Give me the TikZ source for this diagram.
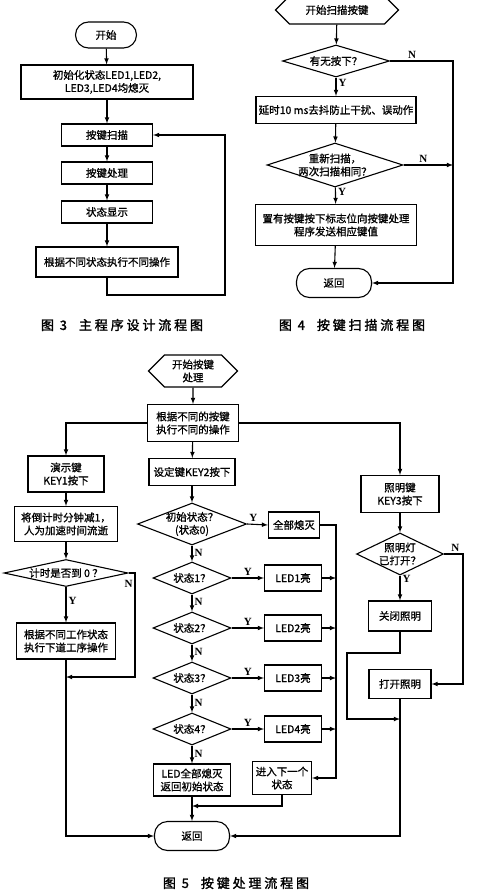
\documentclass[tikz,border=0pt]{standalone}
\usepackage{fontspec}
\setmainfont[FakeBold=1]{Noto Sans CJK SC}
\newfontfamily\ynfont{Liberation Serif}
\newfontfamily\capfont[FakeBold=1.8,LetterSpace=22]{Noto Sans CJK SC}
\usepackage{tikz}
\usetikzlibrary{arrows,shapes,calc}

\begin{document}
\begin{tikzpicture}[x=1pt,y=-1pt,line width=1.1pt,font=\fontsize{10.5}{13}\selectfont]
  \tikzstyle{box}=[draw,rectangle,inner sep=1pt,align=center,minimum height=26pt]
  \tikzstyle{term}=[draw,rectangle,rounded corners=13pt,minimum width=75pt,minimum height=29pt]
  \tikzstyle{hexa}=[draw,signal,signal to=east and west,align=center,inner sep=1pt]
  \tikzstyle{dec}=[draw,diamond,aspect=3,inner sep=-5pt,align=center]
  \tikzstyle{arr}=[-latex]
  \tikzstyle{yn}=[font=\ynfont\bfseries\fontsize{11}{11}\selectfont,inner sep=2pt]
  \tikzstyle{figcap}=[font=\capfont\fontsize{13}{13}\selectfont]
  \useasboundingbox (0,0) rectangle (500,896);

  % fig 3
  \node[term,minimum width=61pt,minimum height=26pt] (start3) at (106,35) {开始};
  \node[box,minimum width=172pt,minimum height=34pt] (init3) at (107,82) {初始化状态LED1,LED2,\\LED3,LED4均熄灭};
  \node[box,minimum width=91pt,minimum height=22pt] (scan3) at (107,135) {按键扫描};
  \node[box,minimum width=91pt,minimum height=22pt] (proc3) at (107,173) {按键处理};
  \node[box,minimum width=91pt,minimum height=22pt] (disp3) at (107,212) {状态显示};
  \node[box,minimum width=142pt,minimum height=30pt] (exec3) at (107,262) {根据不同状态执行不同操作};
  \coordinate (back3) at (225,295);
  \draw[arr] (start3) -- (init3);
  \foreach \a/\b in {init3/scan3,scan3/proc3,proc3/disp3,disp3/exec3}
    \draw[arr] (\a) -- (\b);
  \draw[arr] (exec3.south) |- (back3) |- (scan3.east);
  \node[figcap] (cap3) at (122,325) {图 3\hspace{12pt}主程序设计流程图};

  % fig 4
  \node[hexa,minimum width=123pt,minimum height=28pt] (start4) at (337,10) {开始扫描按键};
  \node[dec,minimum width=107pt,minimum height=32pt] (ask4) at (336,61) {有无按下？};
  \node[box,minimum width=160pt,minimum height=27pt] (delay4) at (336,110) {延时10 ms去抖防止干扰、误动作};
  \node[dec,minimum width=136pt,minimum height=44pt] (again4) at (335,165) {重新扫描，\\两次扫描相同？};
  \node[box,minimum width=161pt,minimum height=41pt] (set4) at (336,225) {置有按键按下标志位向按键处理\\程序发送相应键值};
  \node[term] (ret4) at (334,283) {返回};
  \coordinate (n4) at (453,61);
  \coordinate (m4) at (453,165);
  \draw[arr] (start4) -- (ask4);
  \draw[arr] (ask4) -- node[yn,right,pos=0.3] {Y} (delay4);
  \draw[arr] (delay4) -- (again4);
  \draw[arr] (again4) -- node[yn,right,pos=0.3] {Y} (set4);
  \draw[arr] (set4) -- (ret4);
  \draw[arr] (ask4.east) -- node[yn,above,pos=0.35] {N} (n4) |- (ret4.east);
  \draw[arr] (again4.east) -- node[yn,above,pos=0.4] {N} (m4);
  \node[figcap] (cap4) at (352,325) {图 4\hspace{12pt}按键扫描流程图};

  % fig 5
  \node[hexa,minimum width=89pt,minimum height=32pt] (start5) at (193,371) {开始按键\\处理};
  \node[box,minimum width=91pt,minimum height=37pt] (sel5) at (193,423) {根据不同的按键\\执行不同的操作};
  % left branch
  \node[box,minimum width=76pt,minimum height=36pt] (key1) at (66,474) {演示键\\KEY1按下};
  \node[box,minimum width=103pt,minimum height=35pt] (dec1) at (66,524) {将倒计时分钟减1，\\人为加速时间流逝};
  \node[dec,minimum width=124pt,minimum height=27pt] (zero5) at (66,573) {计时是否到 0 ？};
  \node[box,minimum width=99pt,minimum height=36pt] (next5) at (66,641) {根据不同工作状态\\执行下道工序操作};
  % middle branch
  \node[box,minimum width=86pt,minimum height=27pt] (key2) at (192,472) {设定键KEY2按下};
  \node[dec,minimum width=109pt,minimum height=42pt] (s0) at (192,524) {初始状态？\\(状态0)};
  \node[box,minimum width=51pt,minimum height=26pt] (off0) at (294,525) {全部熄灭};
  \foreach \i/\y in {1/578,2/628,3/678,4/729}{
    \node[dec,minimum width=78pt,minimum height=32pt] (s\i) at (192,\y) {状态\i{}？};
    \node[box,minimum width=57pt,minimum height=26pt] (led\i) at (293,\y) {LED\i{}亮};
  }
  \node[box,minimum width=77pt,minimum height=32pt] (reset5) at (192,780) {LED全部熄灭\\返回初始状态};
  \node[box,minimum width=59pt,minimum height=33pt] (nxt5) at (282,778) {进入下一个\\状态};
  \node[term] (ret5) at (192,836) {返回};
  % right branch
  \node[box,minimum width=78pt,minimum height=37pt] (key3) at (400,494) {照明键\\KEY3按下};
  \node[dec,minimum width=87pt,minimum height=42pt] (lamp5) at (400,554) {照明灯\\已打开？};
  \node[box,minimum width=63pt,minimum height=30pt] (close5) at (400,616) {关闭照明};
  \node[box,minimum width=62pt,minimum height=29pt] (open5) at (400,684) {打开照明};

  \coordinate (z5) at (135,573);
  \coordinate (j5) at (66,677);
  \coordinate (bus) at (336,778);
  \coordinate (k5) at (192,806);
  \coordinate (l5) at (463,554);
  \coordinate (c5) at (347,653);
  \coordinate (o5) at (400,719);

  \draw[arr] (start5) -- (sel5);
  \draw[arr] (sel5) -- (key2);
  \draw[arr] (sel5.west) -| (key1.north);
  \draw[arr] (sel5.east) -| (key3.north);

  \draw[arr] (key1) -- (dec1);
  \draw[arr] (dec1) -- (zero5);
  \draw[arr] (zero5) -- node[yn,right,pos=0.4] {Y} (next5);
  \draw[arr] (zero5.east) -- (z5) |- node[yn,left,pos=0.05] {N} (j5);
  \draw[arr] (next5.south) |- (ret5.west);

  \draw[arr] (key2) -- (s0);
  \draw[arr] (s0) -- node[yn,right,pos=0.45] {N} (s1);
  \draw[arr] (s1) -- node[yn,right,pos=0.45] {N} (s2);
  \draw[arr] (s2) -- node[yn,right,pos=0.45] {N} (s3);
  \draw[arr] (s3) -- node[yn,right,pos=0.45] {N} (s4);
  \draw[arr] (s4) -- node[yn,right,pos=0.45] {N} (reset5);
  \draw[arr] (s0.east) -- node[yn,above,pos=0.3] {Y} (off0.west);
  \foreach \i in {1,2,3,4}{
    \draw[arr] (s\i.east) -- node[yn,above] {Y} (led\i.west);
    \draw[arr] (led\i.east) -- (led\i.east -| bus);
  }
  \draw[arr] (off0.east) -| (bus) -- (nxt5.east);
  \draw[arr] (nxt5.south) |- (k5);
  \draw[arr] (reset5) -- (ret5);

  \draw[arr] (key3) -- (lamp5);
  \draw[arr] (lamp5) -- node[yn,right,pos=0.15] {Y} (close5);
  \draw[arr] (lamp5.east) -- node[yn,above,pos=0.6] {N} (l5) |- (open5.east);
  \draw[arr] (close5.south) |- (c5) |- (o5);
  \draw[arr] (open5.south) |- (ret5.east);
  \node[figcap] (cap5) at (236,883) {图 5\hspace{12pt}按键处理流程图};
\end{tikzpicture}
\end{document}
